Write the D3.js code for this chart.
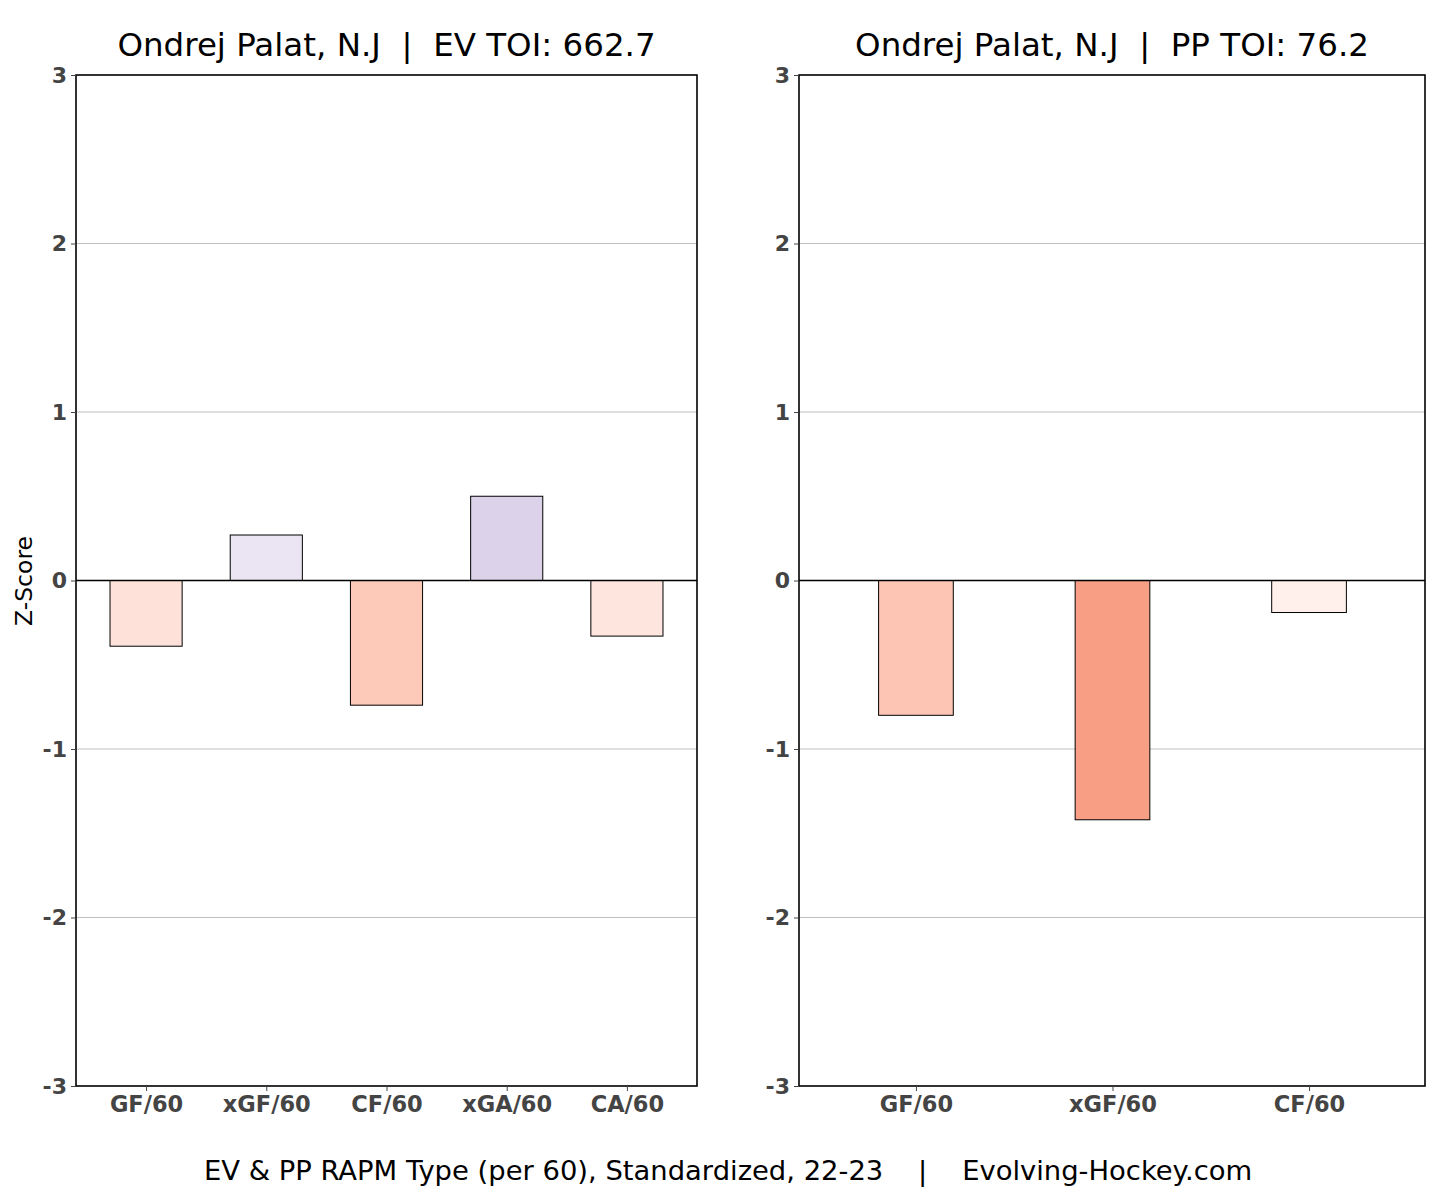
<!DOCTYPE html>
<html><head><meta charset="utf-8">
<script src="https://cdn.jsdelivr.net/npm/d3@7"></script>
<style>body{margin:0;background:#fff;} svg{display:block;}</style>
</head><body>
<script>
const evCategories = ["GF/60","xGF/60","CF/60","xGA/60","CA/60"];
const evValues = [-0.39, 0.27, -0.74, 0.50, -0.33];
const evColors = ["#fee2da","#ebe5f3","#fdc9b9","#dcd2ea","#fee6de"];
const ppCategories = ["GF/60","xGF/60","CF/60"];
const ppValues = [-0.80, -1.42, -0.19];
const ppColors = ["#fdc6b4","#f79e84","#fff0eb"];
const yTicks = [-3,-2,-1,0,1,2,3];
const evTitle = "Ondrej Palat, N.J  |  EV TOI: 662.7";
const ppTitle = "Ondrej Palat, N.J  |  PP TOI: 76.2";
const caption = "EV & PP RAPM Type (per 60), Standardized, 22-23    |    Evolving-Hockey.com";

const W = 1456, H = 1199;
const svg = d3.select("body").append("svg").attr("width", W).attr("height", H);
const font = "'DejaVu Sans', sans-serif";

function panel(x0, x1, cats, vals, cols, title, barW, pad) {
  const top = 75, bottom = 1086;
  const y = d3.scaleLinear().domain([-3, 3]).range([bottom, top]);
  const x = d3.scaleLinear().domain([-pad[0], cats.length - 1 + pad[1]]).range([x0, x1]);
  const g = svg.append("g");
  g.selectAll("line.grid").data(yTicks.filter(t => t !== 0 && Math.abs(t) < 3)).enter()
    .append("line").attr("x1", x0).attr("x2", x1)
    .attr("y1", d => y(d)).attr("y2", d => y(d))
    .attr("stroke", "#b0b0b0").attr("stroke-width", 0.8);
  g.selectAll("rect.bar").data(vals).enter().append("rect")
    .attr("x", (d, i) => x(i - barW / 2))
    .attr("width", (d, i) => x(i + barW / 2) - x(i - barW / 2))
    .attr("y", d => y(Math.max(0, d)))
    .attr("height", d => Math.abs(y(d) - y(0)))
    .attr("fill", (d, i) => cols[i])
    .attr("stroke", "#000").attr("stroke-width", 1);
  g.append("line").attr("x1", x0).attr("x2", x1).attr("y1", y(0)).attr("y2", y(0))
    .attr("stroke", "#000").attr("stroke-width", 1.5);
  g.append("rect").attr("x", x0).attr("y", top).attr("width", x1 - x0).attr("height", bottom - top)
    .attr("fill", "none").attr("stroke", "#000").attr("stroke-width", 1.6);
  const ya = d3.axisLeft(y).tickValues(yTicks).tickFormat(d => String(d)).tickSize(5).tickPadding(4);
  const yg = g.append("g").attr("transform", `translate(${x0},0)`).call(ya);
  yg.select(".domain").remove();
  yg.selectAll(".tick line").attr("stroke", "#444");
  yg.selectAll("text").attr("font-family", font).attr("font-size", 22).attr("font-weight", "bold").attr("fill", "#444");
  const xa = d3.axisBottom(x).tickValues(d3.range(cats.length)).tickFormat(i => cats[i]).tickSize(5).tickPadding(5);
  const xg = g.append("g").attr("transform", `translate(0,${bottom})`).call(xa);
  xg.select(".domain").remove();
  xg.selectAll(".tick line").attr("stroke", "#444");
  xg.selectAll("text").attr("font-family", font).attr("font-size", 22.5).attr("font-weight", "bold").attr("fill", "#444");
  svg.append("text").attr("x", (x0 + x1) / 2).attr("y", 56).attr("text-anchor", "middle")
    .attr("font-family", font).attr("font-size", 32.5).attr("fill", "#000").style("white-space", "pre").text(title);
}

panel(76, 697, evCategories, evValues, evColors, evTitle, 0.6, [0.583, 0.583]);
panel(799, 1425, ppCategories, ppValues, ppColors, ppTitle, 0.38, [0.595, 0.59]);

svg.append("text").attr("transform", "translate(32,581) rotate(-90)").attr("text-anchor", "middle")
  .attr("font-family", font).attr("font-size", 23.5).attr("fill", "#000").text("Z-Score");

svg.append("text").attr("x", 728).attr("y", 1180).attr("text-anchor", "middle")
  .attr("font-family", font).attr("font-size", 27.4).attr("fill", "#000").style("white-space", "pre").text(caption);
</script>
</body></html>
